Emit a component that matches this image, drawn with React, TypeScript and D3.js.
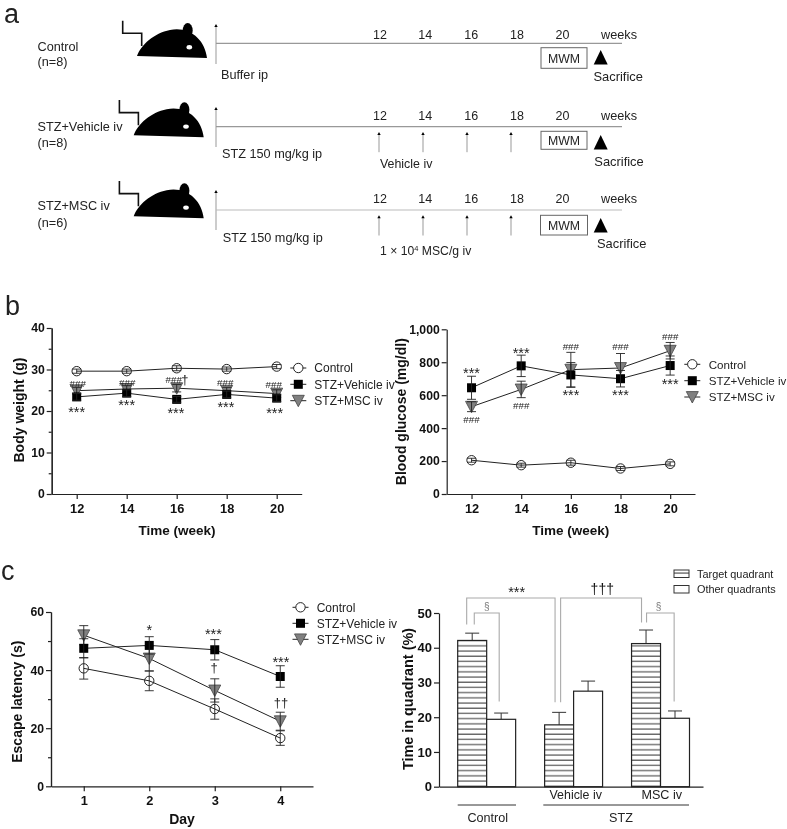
import React, { useEffect, useRef } from "react";
import * as d3 from "d3";

const FONT = "'Liberation Sans', Arial, sans-serif";
const INK = "#222";

// Body weight (g)
const weeks = [12, 14, 16, 18, 20];
const weightControl = [29.6, 29.6, 30.3, 30.1, 30.7];
const weightVehicle = [23.4, 24.3, 22.8, 24.0, 23.1];
const weightMsc = [24.9, 25.3, 25.5, 24.9, 24.2];
const weightControlErr = [0.5, 0.5, 0.6, 0.5, 0.5];
const weightVehicleErr = [0.8, 0.8, 0.7, 0.8, 0.8];
const weightMscErr = [0.8, 0.8, 0.9, 0.8, 0.9];

// Blood glucose (mg/dl)
const glucoseControl = [205, 175, 190, 155, 183];
const glucoseVehicle = [645, 778, 723, 700, 780];
const glucoseMsc = [530, 635, 755, 765, 870];
const glucoseControlErr = [12, 12, 15, 12, 12];
const glucoseVehicleErr = [70, 65, 75, 50, 58];
const glucoseMscErr = [30, 50, 105, 88, 50];

// Escape latency (s)
const days = [1, 2, 3, 4];
const latencyControl = [40.6, 36.3, 26.6, 16.6];
const latencyVehicle = [47.5, 48.5, 47.0, 37.8];
const latencyMsc = [52.0, 44.0, 33.0, 22.4];
const latencyControlErr = [3.7, 3.4, 3.5, 2.5];
const latencyVehicleErr = [3.3, 3.0, 3.5, 3.7];
const latencyMscErr = [3.3, 4.3, 4.0, 3.1];

// Time in quadrant (%)
const quadrantGroups = ["Control", "Vehicle iv", "MSC iv"];
const targetQuadrant = [42.1, 17.8, 41.2];
const otherQuadrants = [19.4, 27.5, 19.7];
const targetErr = [2.1, 3.6, 3.9];
const otherErr = [1.8, 2.9, 2.1];

const groupNames = ["Control", "STZ+Vehicle iv", "STZ+MSC iv"];
const scheduleWeeks = ["12", "14", "16", "18", "20"];

// Significance marks: [x value, y value, label]
type Note = [number, number, string];
const weightNotes: Note[] = [
  [12.04, 26.7, "###"], [14.02, 26.9, "###"], [15.88, 27.7, "###"], [16.33, 27.6, "†"], [17.94, 26.9, "###"], [19.88, 26.4, "###"],
  [12, 20.6, "***"], [14, 22.2, "***"], [15.97, 20.5, "***"], [17.97, 21.9, "***"], [19.92, 20.3, "***"],
];
const glucoseNotes: Note[] = [
  [12, 755, "***"], [14, 880, "***"], [16, 621, "***"], [18, 621, "***"], [20, 692, "***"],
  [12, 453, "###"], [14, 536, "###"], [16, 899, "###"], [18, 895, "###"], [20, 957, "###"],
];
const latencyNotes: Note[] = [
  [2, 55, "*"], [2.98, 53.5, "***"], [4.01, 44, "***"], [2.99, 41, "†"], [4.01, 28.9, "††"],
];

type Sel = d3.Selection<any, any, any, any>;

function addText(g: Sel, x: number, y: number, label: string, size = 12.7, anchor = "start", weight = "normal", fill = INK) {
  return g
    .append("text")
    .attr("x", x)
    .attr("y", y)
    .attr("text-anchor", anchor)
    .style("font-family", FONT)
    .style("font-size", `${size}px`)
    .style("font-weight", weight)
    .style("fill", fill)
    .text(label);
}

function drawMarker(g: Sel, kind: number, x: number, y: number) {
  if (kind === 0) {
    g.append("circle").attr("cx", x).attr("cy", y).attr("r", 4.7).attr("fill", "none").attr("stroke", INK).attr("stroke-width", 1);
  } else if (kind === 1) {
    g.append("rect").attr("x", x - 4.5).attr("y", y - 4.5).attr("width", 9).attr("height", 9).attr("fill", "#000");
  } else {
    g.append("path")
      .attr("d", `M${x - 6},${y - 5.4}L${x + 6},${y - 5.4}L${x},${y + 6}Z`)
      .attr("fill", "#808080")
      .attr("stroke", "#444")
      .attr("stroke-width", 0.8);
  }
}

function drawLegend(g: Sel, cx: number, textX: number, rows: number[], size = 12) {
  groupNames.forEach((name, i) => {
    const y = rows[i];
    g.append("line").attr("x1", cx - 8).attr("x2", cx + 8).attr("y1", y).attr("y2", y).attr("stroke", INK).attr("stroke-width", 1);
    if (i === 0) {
      g.append("circle").attr("cx", cx).attr("cy", y).attr("r", 4.7).attr("fill", "#fff").attr("stroke", INK);
    } else {
      drawMarker(g, i, cx, y);
    }
    addText(g, textX, y + 4.4, name, size);
  });
}

function styleAxis(axis: Sel, size = 12.8) {
  axis.selectAll("path,line").attr("stroke", INK).attr("stroke-width", 1.2);
  axis.selectAll("text").style("font-family", FONT).style("font-size", `${size}px`).style("font-weight", "bold").style("fill", "#111");
}

interface LinePanel {
  xs: number[];
  series: number[][];
  errors: number[][];
  xScale: d3.ScaleLinear<number, number>;
  yScale: d3.ScaleLinear<number, number>;
  yTicks: number[];
  yMinor: number[];
  notes: Note[];
  left: number;
  bottom: number;
}

function drawLinePanel(svg: Sel, p: LinePanel) {
  const g = svg.append("g");
  const line = d3
    .line<number>()
    .x((_, i) => p.xScale(p.xs[i]))
    .y((d) => p.yScale(d));

  // MSC underneath, then vehicle, then control on top
  [2, 1, 0].forEach((k) => {
    const values = p.series[k];
    g.append("path").attr("d", line(values)).attr("fill", "none").attr("stroke", INK).attr("stroke-width", 1);
    values.forEach((v, i) => {
      const x = p.xScale(p.xs[i]);
      drawMarker(g, k, x, p.yScale(v));
      const hi = p.yScale(v + p.errors[k][i]);
      const lo = p.yScale(v - p.errors[k][i]);
      g.append("path")
        .attr("d", `M${x - 4.5},${hi}H${x + 4.5}M${x},${hi}V${lo}M${x - 4.5},${lo}H${x + 4.5}`)
        .attr("fill", "none")
        .attr("stroke", INK)
        .attr("stroke-width", 0.9);
    });
  });

  const xAxis = svg
    .append("g")
    .attr("transform", `translate(0, ${p.bottom})`)
    .call(d3.axisBottom(p.xScale).tickValues(p.xs).tickFormat(d3.format("d")).tickSize(5).tickPadding(5).tickSizeOuter(0));
  styleAxis(xAxis);

  const yAxis = svg
    .append("g")
    .attr("transform", `translate(${p.left}, 0)`)
    .call(d3.axisLeft(p.yScale).tickValues(p.yTicks).tickFormat(d3.format(",")).tickSize(5).tickPadding(2).tickSizeOuter(0));
  styleAxis(yAxis, 12.2);

  if (p.yMinor.length) {
    const minor = svg
      .append("g")
      .attr("transform", `translate(${p.left}, 0)`)
      .call(d3.axisLeft(p.yScale).tickValues(p.yMinor).tickFormat(() => "").tickSize(3).tickSizeOuter(0));
    styleAxis(minor);
  }

  p.notes.forEach(([nx, ny, label]) => {
    const x = p.xScale(nx);
    const y = p.yScale(ny);
    if (label.startsWith("*")) addText(g, x, y + 8.6, label, 14.5, "middle");
    else if (label.startsWith("#")) addText(g, x, y + 3.6, label, 9.8, "middle");
    else addText(g, x, y + 4.5, label, 13, "middle");
  });
}

function drawMouse(g: Sel, dx: number, dy: number) {
  const m = g.append("g").attr("transform", `translate(${dx}, ${dy})`);
  m.append("path")
    .attr("d", "M122.7,20.7V33.3H141.7V46")
    .attr("fill", "none")
    .attr("stroke", "#111")
    .attr("stroke-width", 1.6);
  m.append("path")
    .attr("d", "M137,56C141,45 154,33 170,30C190,26 205,40 207,58Z")
    .attr("fill", "#000");
  m.append("ellipse").attr("cx", 187.7).attr("cy", 30.5).attr("rx", 5).attr("ry", 7.5).attr("fill", "#000");
  m.append("ellipse").attr("cx", 189.3).attr("cy", 47.3).attr("rx", 2.8).attr("ry", 2.2).attr("fill", "#fff");
}

function drawArrow(g: Sel, x: number, top: number, bottom: number) {
  g.append("line").attr("x1", x).attr("x2", x).attr("y1", top + 2).attr("y2", bottom).attr("stroke", "#999").attr("stroke-width", 1);
  g.append("path").attr("d", `M${x - 1.7},${top + 3}L${x + 1.7},${top + 3}L${x},${top}Z`).attr("fill", "#000");
}

function drawSchedule(svg: Sel) {
  const g = svg.append("g");
  addText(g, 4, 23, "a", 27);

  const weekX = [380, 425.3, 471.3, 517, 562.5];
  const arrowX = [379, 423, 467, 511];

  // Control
  drawMouse(g, 0, 0);
  addText(g, 37.5, 51, "Control");
  addText(g, 37.5, 66, "(n=8)");
  // STZ+Vehicle
  drawMouse(g, -3.3, 79.3);
  addText(g, 37.5, 131, "STZ+Vehicle iv");
  addText(g, 37.5, 147, "(n=8)");
  // STZ+MSC
  drawMouse(g, -3.3, 160.3);
  addText(g, 37.5, 210, "STZ+MSC iv");
  addText(g, 37.5, 227, "(n=6)");

  const rows = [
    { line: 43.3, label: 39, boxX: 541, boxW: 46, boxY: 47.7, boxH: 20.6, tri: 50, sacX: 593.5, sacY: 81, top: 24, bottom: 64 },
    { line: 126.7, label: 120, boxX: 541, boxW: 46, boxY: 131.3, boxH: 18, tri: 135, sacX: 594.3, sacY: 165.7, top: 107, bottom: 147 },
    { line: 210, label: 203, boxX: 540.5, boxW: 47, boxY: 215.3, boxH: 19.7, tri: 218, sacX: 597, sacY: 248, top: 190, bottom: 230 },
  ];

  rows.forEach((r, i) => {
    drawArrow(g, 216, r.top, r.bottom);
    g.append("line").attr("x1", 216).attr("x2", 622).attr("y1", r.line).attr("y2", r.line).attr("stroke", i === 2 ? "#bbb" : "#999").attr("stroke-width", 1.2);
    scheduleWeeks.forEach((w, j) => addText(g, weekX[j], r.label, w, 12.5, "middle"));
    addText(g, 619, r.label, "weeks", 12.7, "middle");
    g.append("rect").attr("x", r.boxX).attr("y", r.boxY).attr("width", r.boxW).attr("height", r.boxH).attr("fill", "#fff").attr("stroke", "#666").attr("stroke-width", 1);
    addText(g, r.boxX + r.boxW / 2, r.boxY + r.boxH / 2 + 4.5, "MWM", 12.3, "middle");
    g.append("path").attr("d", `M593.7,${r.tri + 14.4}L607.7,${r.tri + 14.4}L600.7,${r.tri}Z`).attr("fill", "#000");
    addText(g, r.sacX, r.sacY, "Sacrifice", 12.9);
    if (i > 0) arrowX.forEach((x) => drawArrow(g, x, r.line + 5.3, r.line + 25.5));
  });

  addText(g, 221, 79, "Buffer ip");
  addText(g, 222, 158, "STZ 150 mg/kg ip");
  addText(g, 222.7, 241.7, "STZ 150 mg/kg ip");
  addText(g, 380, 168, "Vehicle iv", 12.4);

  const sup = addText(g, 380, 255, "1 × 10", 12.2);
  sup.append("tspan").attr("dy", -4).style("font-size", "7.5px").text("4");
  sup.append("tspan").attr("dy", 4).text(" MSC/g iv");
}

function drawQuadrants(svg: Sel) {
  const y = d3.scaleLinear().domain([0, 50]).range([786.7, 613]);
  const x0 = d3.scaleBand<string>().domain(quadrantGroups).range([457.7, 689.5]).paddingInner(1 / 3);
  const x1 = d3.scaleBand<string>().domain(["target", "other"]).range([0, x0.bandwidth()]);
  const g = svg.append("g");

  const defs = svg.append("defs");
  const pattern = defs.append("pattern").attr("id", "hatch").attr("patternUnits", "userSpaceOnUse").attr("width", 8).attr("height", 5.2);
  pattern.append("rect").attr("width", 8).attr("height", 5.2).attr("fill", "#fff");
  pattern.append("line").attr("x1", 0).attr("x2", 8).attr("y1", 1).attr("y2", 1).attr("stroke", "#333").attr("stroke-width", 1);

  const series = [
    { key: "target", values: targetQuadrant, errs: targetErr, fill: "url(#hatch)" },
    { key: "other", values: otherQuadrants, errs: otherErr, fill: "#fff" },
  ];
  series.forEach((s) => {
    quadrantGroups.forEach((group, i) => {
      const bx = (x0(group) || 0) + (x1(s.key) || 0);
      const cx = bx + x1.bandwidth() / 2;
      g.append("path")
        .attr("d", `M${cx - 7},${y(s.values[i] + s.errs[i])}H${cx + 7}M${cx},${y(s.values[i] + s.errs[i])}V${y(s.values[i])}`)
        .attr("fill", "none")
        .attr("stroke", "#333")
        .attr("stroke-width", 1);
      g.append("rect")
        .attr("x", bx)
        .attr("y", y(s.values[i]))
        .attr("width", x1.bandwidth())
        .attr("height", y(0) - y(s.values[i]))
        .attr("fill", s.fill)
        .attr("stroke", "#222")
        .attr("stroke-width", 1.2);
    });
  });

  const xAxis = svg
    .append("g")
    .attr("transform", `translate(0, ${y(0)})`)
    .call(d3.axisBottom(d3.scaleLinear().domain([0, 1]).range([439, 703])).tickValues([]).tickSizeOuter(0));
  styleAxis(xAxis);
  const yAxis = svg
    .append("g")
    .attr("transform", "translate(439, 0)")
    .call(d3.axisLeft(y).tickValues([0, 10, 20, 30, 40, 50]).tickSize(5).tickPadding(2).tickSizeOuter(0));
  styleAxis(yAxis, 13);

  // Comparison brackets, x as a fraction across a bar group and y in percent
  const bw = x0.bandwidth();
  const bx = (i: number, f: number) => (x0(quadrantGroups[i]) || 0) + f * bw;
  const bracket = (a: number, ya: number, b: number, yb: number, top: number) =>
    g.append("path")
      .attr("d", `M${a},${y(ya)}V${y(top)}H${b}V${y(yb)}`)
      .attr("fill", "none")
      .attr("stroke", "#aaa")
      .attr("stroke-width", 1.1);
  bracket(bx(0, 0.155), 46.7, bx(1, 0.18), 24.3, 54.3);
  bracket(bx(1, 0.276), 24.3, bx(2, 0.172), 47.3, 54.3);
  bracket(bx(0, 0.286), 46.7, bx(0, 0.716), 24.5, 50);
  bracket(bx(2, 0.259), 47.3, bx(2, 0.735), 24.5, 50);

  addText(g, bx(0, 0.5), 610, "§", 10, "middle", "normal", "#777");
  addText(g, bx(2, 0.465), 610, "§", 10, "middle", "normal", "#777");
  addText(g, 516.7, 597, "***", 14.5, "middle");
  addText(g, 602.3, 594, "†††", 14, "middle", "normal", "#111");

  addText(g, 575.7, 799, "Vehicle iv", 12.4, "middle");
  addText(g, 661.7, 799, "MSC iv", 12.6, "middle");
  g.append("line").attr("x1", 457.7).attr("x2", 516).attr("y1", 805).attr("y2", 805).attr("stroke", "#333");
  g.append("line").attr("x1", 543.3).attr("x2", 689).attr("y1", 805).attr("y2", 805).attr("stroke", "#333");
  addText(g, 487.7, 822, "Control", 12.6, "middle");
  addText(g, 621, 822, "STZ", 12.6, "middle");

  // Legend
  [
    { fill: "url(#hatch)", name: "Target quadrant", top: 570 },
    { fill: "#fff", name: "Other quadrants", top: 585.5 },
  ].forEach((d) => {
    g.append("rect").attr("x", 674).attr("y", d.top).attr("width", 15).attr("height", 7.5).attr("fill", d.fill).attr("stroke", "#333");
    addText(g, 697, d.top + 7.8, d.name, 10.9);
  });

  const label = addText(g, 0, 0, "Time in quadrant (%)", 14.4, "middle", "bold", "#111");
  label.attr("transform", "translate(413, 699) rotate(-90)");
}

const App: React.FC = () => {
  const svgRef = useRef<SVGSVGElement>(null);

  useEffect(() => {
    if (!svgRef.current) return;
    const svg = d3.select(svgRef.current);
    svg.selectAll("*").remove();

    drawSchedule(svg);

    // Panel b, body weight
    addText(svg, 5, 315, "b", 27);
    drawLinePanel(svg, {
      xs: weeks,
      series: [weightControl, weightVehicle, weightMsc],
      errors: [weightControlErr, weightVehicleErr, weightMscErr],
      xScale: d3.scaleLinear().domain([11, 21]).range([51.7, 301.7]),
      yScale: d3.scaleLinear().domain([0, 40]).range([494, 328]),
      yTicks: [0, 10, 20, 30, 40],
      yMinor: [5, 15, 25, 35],
      notes: weightNotes,
      left: 51.7,
      bottom: 494,
    });
    drawLegend(svg, 298.3, 314.3, [368, 384.3, 400.7]);
    addText(svg, 0, 0, "Body weight (g)", 14, "middle", "bold", "#111").attr("transform", "translate(24, 410) rotate(-90)");
    addText(svg, 177, 535, "Time (week)", 13.5, "middle", "bold", "#111");

    // Panel b, blood glucose
    drawLinePanel(svg, {
      xs: weeks,
      series: [glucoseControl, glucoseVehicle, glucoseMsc],
      errors: [glucoseControlErr, glucoseVehicleErr, glucoseMscErr],
      xScale: d3.scaleLinear().domain([11, 21]).range([446.7, 695]),
      yScale: d3.scaleLinear().domain([0, 1000]).range([494, 329.3]),
      yTicks: [0, 200, 400, 600, 800, 1000],
      yMinor: [],
      notes: glucoseNotes,
      left: 446.7,
      bottom: 494,
    });
    drawLegend(svg, 692.3, 708.7, [364.3, 380.7, 397], 11.6);
    addText(svg, 0, 0, "Blood glucose (mg/dl)", 14, "middle", "bold", "#111").attr("transform", "translate(406, 411.7) rotate(-90)");
    addText(svg, 570.7, 535, "Time (week)", 13.5, "middle", "bold", "#111");

    // Panel c, escape latency
    addText(svg, 1, 580, "c", 27);
    drawLinePanel(svg, {
      xs: days,
      series: [latencyControl, latencyVehicle, latencyMsc],
      errors: [latencyControlErr, latencyVehicleErr, latencyMscErr],
      xScale: d3.scaleLinear().domain([0.5, 4.5]).range([51, 313]),
      yScale: d3.scaleLinear().domain([0, 60]).range([786.3, 612]),
      yTicks: [0, 20, 40, 60],
      yMinor: [10, 30, 50],
      notes: latencyNotes,
      left: 51,
      bottom: 786.3,
    });
    drawLegend(svg, 300.5, 316.7, [607.3, 623.3, 639.3]);
    addText(svg, 0, 0, "Escape latency (s)", 14, "middle", "bold", "#111").attr("transform", "translate(22, 701.7) rotate(-90)");
    addText(svg, 182, 824, "Day", 14, "middle", "bold", "#111");

    drawQuadrants(svg);
  }, []);

  return (
    <svg
      ref={svgRef}
      width={787}
      height={829}
      style={{ position: "absolute", left: 0, top: 0, willChange: "transform" }}
    />
  );
};

export default App;
